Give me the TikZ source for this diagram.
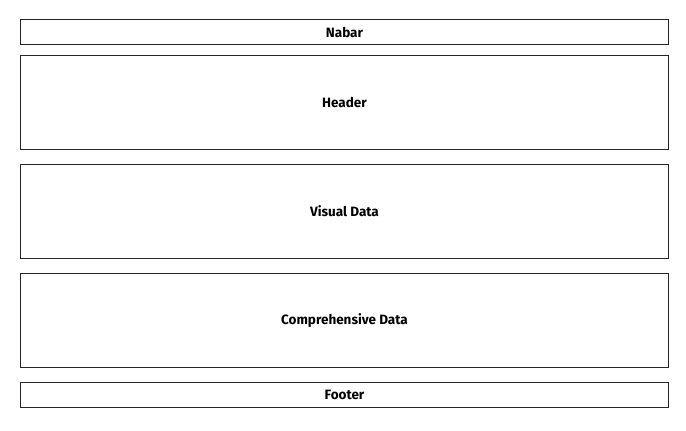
\documentclass[tikz,border=0pt]{standalone}
\usepackage{fontspec}
\setmainfont{Fira Sans}
\begin{document}
\begin{tikzpicture}[x=1pt,y=-1pt,
  section/.style={draw=black!85,line width=1pt,minimum width=648pt,inner sep=0pt,anchor=north west,font=\bfseries\fontsize{13.5}{15}\selectfont}]
\useasboundingbox (0,0) rectangle (686,431);
\node[section,minimum height=25pt] (nav) at (20,19) {Nabar};
\node[section,minimum height=94pt] (head) at (20,55) {Header};
\node[section,minimum height=94pt] (vis) at (20,164) {Visual Data};
\node[section,minimum height=94pt] (comp) at (20,273) {Comprehensive Data};
\node[section,minimum height=25pt] (foot) at (20,382) {Footer};
\end{tikzpicture}
\end{document}
